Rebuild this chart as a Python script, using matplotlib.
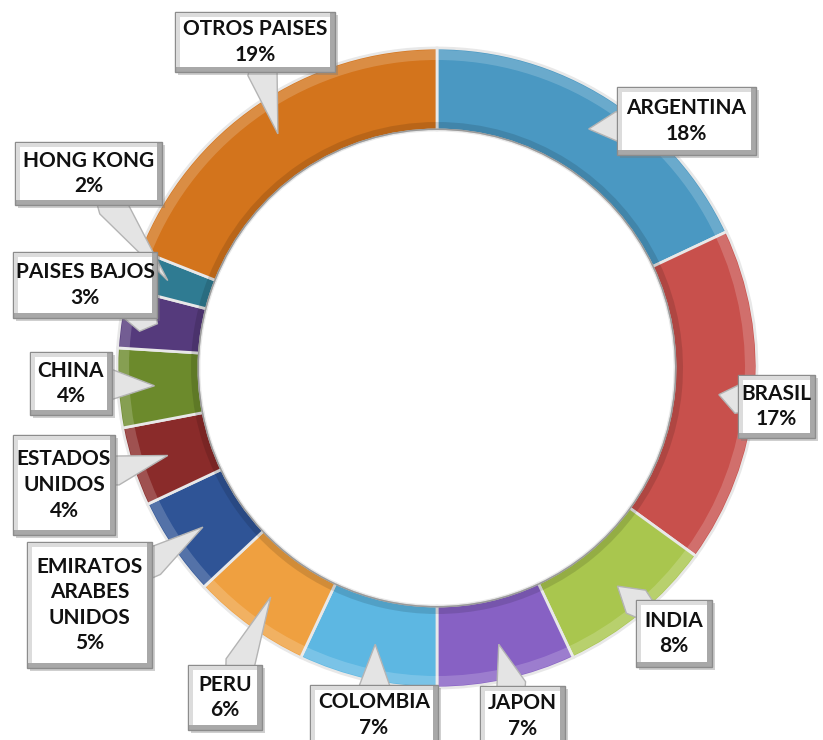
import numpy as np
import matplotlib
matplotlib.use("Agg")
import matplotlib.pyplot as plt
from matplotlib.patches import Polygon, Rectangle

# Data (percent share per country, clockwise from the top)
countries = ['ARGENTINA', 'BRASIL', 'INDIA', 'JAPON', 'COLOMBIA', 'PERU',
             'EMIRATOS\nARABES\nUNIDOS', 'ESTADOS\nUNIDOS', 'CHINA',
             'PAISES BAJOS', 'HONG KONG', 'OTROS PAISES']
shares = [18, 17, 8, 7, 7, 6, 5, 4, 4, 3, 2, 19]
colors = ['#4A98C2', '#C8504C', '#A9C64E', '#8761C4', '#5DB7E2', '#EFA040',
          '#2F5496', '#8A2B2A', '#6C8A2C', '#553A7C', '#2F7B92', '#D3741C']

# callout boxes in pixel coords (x0, y0, x1, y1), y measured from the top
boxes = [(617, 87, 756, 155), (738, 375, 815, 438), (636, 600, 712, 667),
         (480, 686, 565, 762), (310, 685, 438, 762), (188, 665, 262, 730),
         (27, 542, 152, 668), (13, 435, 115, 535), (30, 352, 112, 415),
         (13, 252, 157, 318), (15, 142, 162, 205), (175, 12, 335, 72)]

W, H = 823, 740
CX, CY, R, RIN = 437, 368, 320, 238


def py(y):
    return H - y


fig = plt.figure(figsize=(W / 100, H / 100), dpi=100)
ax = fig.add_axes([0, 0, 1, 1])

width = R - RIN
ax.pie(shares, colors=colors, startangle=90, counterclock=False,
       center=(CX, py(CY)), radius=R,
       wedgeprops=dict(width=width, edgecolor='#E8E8E8', linewidth=2))

# bevel: light rim outside, dark rim inside
ax.pie(shares, colors=['white'] * len(shares), startangle=90, counterclock=False,
       center=(CX, py(CY)), radius=R - 2,
       wedgeprops=dict(width=10, alpha=0.18, linewidth=0))
ax.pie(shares, colors=['black'] * len(shares), startangle=90, counterclock=False,
       center=(CX, py(CY)), radius=RIN + 8,
       wedgeprops=dict(width=8, alpha=0.12, linewidth=0))
ax.pie(shares, colors=['#9A9A9A'] * len(shares), startangle=90, counterclock=False,
       center=(CX, py(CY)), radius=RIN + 1.5,
       wedgeprops=dict(width=1.5, linewidth=0))
ax.set_xlim(0, W)
ax.set_ylim(0, H)
ax.set_aspect('equal')
ax.axis('off')

font = dict(family=['Lato', 'DejaVu Sans'], weight='bold', size=15, color='#111111')

cum = np.cumsum([0] + shares)
total = float(sum(shares))
for i, (name, val) in enumerate(zip(countries, shares)):
    mid = np.deg2rad(90 - 360 * (cum[i] + cum[i + 1]) / 2 / total)
    rt = R - 0.45 * width
    tx, ty = CX + rt * np.cos(mid), CY - rt * np.sin(mid)
    x0, y0, x1, y1 = boxes[i]
    bx, by = (x0 + x1) / 2, (y0 + y1) / 2
    # pointer base on the box edge facing the tip
    dx, dy = tx - bx, ty - by
    hw, hh = (x1 - x0) / 2, (y1 - y0) / 2
    s = min(hw / abs(dx) if dx else 1e9, hh / abs(dy) if dy else 1e9)
    ex, ey = bx + dx * s, by + dy * s
    n = np.hypot(dx, dy)
    px, pyy = -dy / n, dx / n
    bw = 15
    pts = [(ex + px * bw, py(ey + pyy * bw)), (tx, py(ty)),
           (ex - px * bw, py(ey - pyy * bw)), (bx, py(by))]
    ax.add_patch(Polygon(pts, closed=True, facecolor='#E4E4E4',
                         edgecolor='#B4B4B4', linewidth=1, zorder=5))
    # shadow + bevelled box
    ax.add_patch(Rectangle((x0 + 3, py(y1 + 3)), x1 - x0, y1 - y0,
                           facecolor='#777777', alpha=0.35, linewidth=0, zorder=6))
    ax.add_patch(Rectangle((x0, py(y1)), x1 - x0, y1 - y0,
                           facecolor='#A8A8A8', edgecolor='#8C8C8C', linewidth=1, zorder=7))
    ax.add_patch(Rectangle((x0 + 1, py(y0 + 5)), x1 - x0 - 6, 4,
                           facecolor='#DCDCDC', edgecolor='none', zorder=7))
    ax.add_patch(Rectangle((x0 + 1, py(y1 - 5)), 4, y1 - y0 - 6,
                           facecolor='#DCDCDC', edgecolor='none', zorder=7))
    ax.add_patch(Rectangle((x0 + 5, py(y1 - 5)), x1 - x0 - 10, y1 - y0 - 10,
                           facecolor='white', edgecolor='none', zorder=8))
    ty_text = by if y1 <= H else (y0 + 30)
    ax.text(bx, py(ty_text), f'{name}\n{val}%', ha='center', va='center',
            linespacing=1.35, zorder=9, **font)

fig.savefig('out.png', dpi=100)
